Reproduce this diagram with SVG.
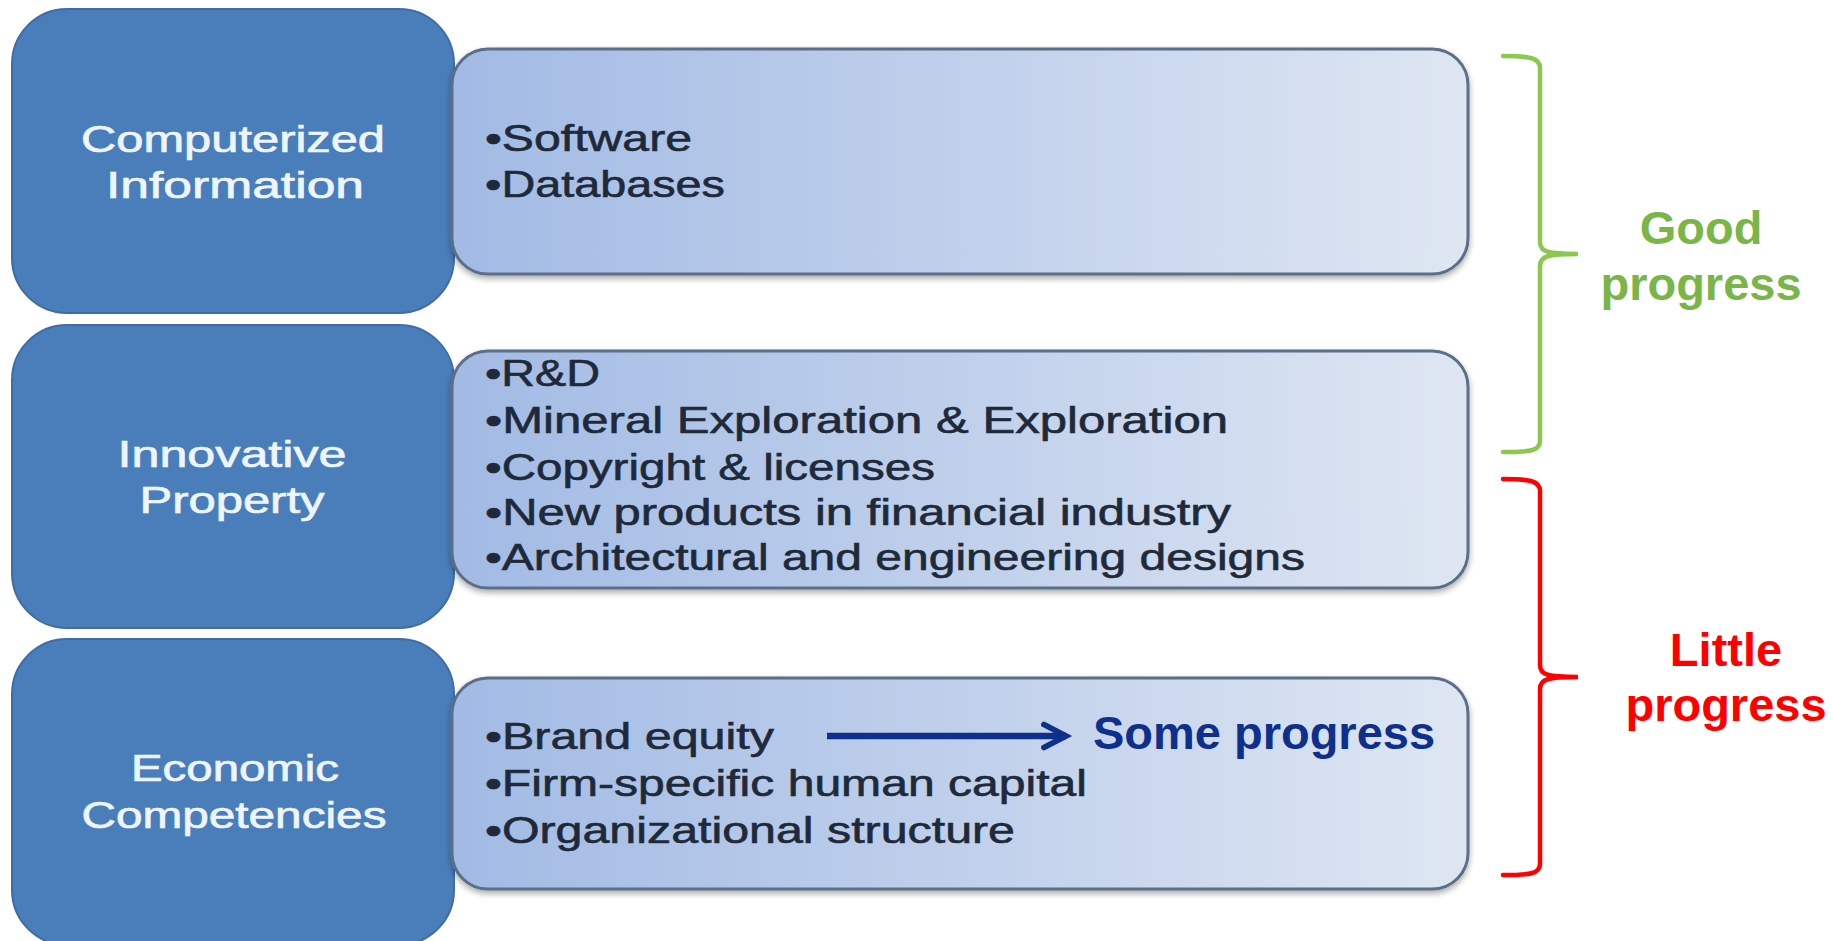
<svg xmlns="http://www.w3.org/2000/svg" width="1833" height="941" viewBox="0 0 1833 941">
<defs>
<linearGradient id="lg" x1="0" y1="0" x2="1" y2="0">
<stop offset="0" stop-color="#A2BAE4"/>
<stop offset="0.55" stop-color="#C3D2EC"/>
<stop offset="1" stop-color="#DEE6F2"/>
</linearGradient>
<filter id="sh" x="-5%" y="-10%" width="110%" height="125%">
<feGaussianBlur in="SourceAlpha" stdDeviation="3"/>
<feOffset dy="3"/>
<feComponentTransfer><feFuncA type="linear" slope="0.35"/></feComponentTransfer>
<feMerge><feMergeNode/><feMergeNode in="SourceGraphic"/></feMerge>
</filter>
<marker id="ah" markerWidth="30" markerHeight="30" refX="0" refY="0" orient="auto" markerUnits="userSpaceOnUse" viewBox="-30 -15 34 30" overflow="visible">
<path d="M-25,-13 L0,0 L-25,13" fill="none" stroke="#0E2F8C" stroke-width="6.5" stroke-linecap="round" stroke-linejoin="miter"/>
</marker>
</defs>
<style>
.dark{fill:#4A7EBB;stroke:#3E6DA6;stroke-width:2}
.light{fill:url(#lg);stroke:#5B6E88;stroke-width:3;filter:url(#sh)}
.wt{font-family:"Liberation Sans",Arial,sans-serif;font-size:37px;fill:#EEF5FF;stroke:#EEF5FF;stroke-width:0.7;text-anchor:middle}
.bt{font-family:"Liberation Sans",Arial,sans-serif;font-size:36px;fill:#1E2A3A;stroke:#1E2A3A;stroke-width:0.6}
.big{font-family:"Liberation Sans",Arial,sans-serif;font-size:47px;font-weight:bold;text-anchor:middle}
.brace{fill:none;stroke-width:4.5;stroke-linecap:round}
</style>
<rect width="1833" height="941" fill="#FFFFFF"/>

<g id="computerized">
<rect class="dark" x="12" y="9" width="442" height="304" rx="55"/>
<rect class="light" x="452" y="49" width="1016" height="225" rx="36"/>
<text class="wt" x="233" y="152" textLength="304" lengthAdjust="spacingAndGlyphs">Computerized</text>
<text class="wt" x="235" y="198" textLength="258" lengthAdjust="spacingAndGlyphs">Information</text>
<text class="bt" x="485" y="151" textLength="207" lengthAdjust="spacingAndGlyphs">•Software</text>
<text class="bt" x="485" y="197" textLength="240" lengthAdjust="spacingAndGlyphs">•Databases</text>
</g>

<g id="innovative">
<rect class="dark" x="12" y="325" width="442" height="303" rx="55"/>
<rect class="light" x="452" y="351" width="1016" height="237" rx="36"/>
<text class="wt" x="232" y="467" textLength="229" lengthAdjust="spacingAndGlyphs">Innovative</text>
<text class="wt" x="232" y="513" textLength="185" lengthAdjust="spacingAndGlyphs">Property</text>
<text class="bt" x="485" y="386" textLength="115" lengthAdjust="spacingAndGlyphs">•R&amp;D</text>
<text class="bt" x="485" y="433" textLength="743" lengthAdjust="spacingAndGlyphs">•Mineral Exploration &amp; Exploration</text>
<text class="bt" x="485" y="480" textLength="450" lengthAdjust="spacingAndGlyphs">•Copyright &amp; licenses</text>
<text class="bt" x="485" y="525" textLength="746" lengthAdjust="spacingAndGlyphs">•New products in financial industry</text>
<text class="bt" x="485" y="570" textLength="820" lengthAdjust="spacingAndGlyphs">•Architectural and engineering designs</text>
</g>

<g id="economic">
<rect class="dark" x="12" y="639" width="442" height="306" rx="55"/>
<rect class="light" x="452" y="678" width="1016" height="211" rx="36"/>
<text class="wt" x="235" y="781" textLength="208" lengthAdjust="spacingAndGlyphs">Economic</text>
<text class="wt" x="234" y="828" textLength="305" lengthAdjust="spacingAndGlyphs">Competencies</text>
<text class="bt" x="485" y="749" textLength="289" lengthAdjust="spacingAndGlyphs">•Brand equity</text>
<text class="bt" x="485" y="796" textLength="602" lengthAdjust="spacingAndGlyphs">•Firm-specific human capital</text>
<text class="bt" x="485" y="843" textLength="530" lengthAdjust="spacingAndGlyphs">•Organizational structure</text>
</g>

<g id="connectors">
<line x1="827" y1="736" x2="1066" y2="736" stroke="#0E2F8C" stroke-width="6.5" marker-end="url(#ah)"/>
<path class="brace" stroke="#8CC84F" d="M1503,56 C1530,56 1540,58 1540,68 V242 C1540,252 1548,254 1578,254 C1548,254 1540,256 1540,266 V441 C1540,451 1530,452 1503,452"/>
<path class="brace" stroke="#FF0000" d="M1503,479 C1530,479 1540,481 1540,491 V665 C1540,675 1548,677 1578,677 C1548,677 1540,679 1540,689 V864 C1540,874 1530,875 1503,875"/>
</g>

<g id="labels">
<text class="big" x="1264" y="749" fill="#0E2F8C">Some progress</text>
<text class="big" x="1701" y="244" fill="#7AB547">Good</text>
<text class="big" x="1701" y="300" fill="#7AB547">progress</text>
<text class="big" x="1726" y="666" fill="#FF0000">Little</text>
<text class="big" x="1726" y="721" fill="#FF0000">progress</text>
</g>
</svg>
